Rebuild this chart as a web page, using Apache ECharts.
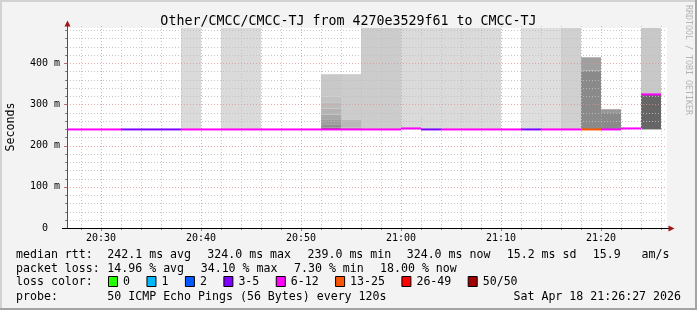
<!DOCTYPE html>
<html><head><meta charset="utf-8">
<script src="https://cdn.jsdelivr.net/npm/echarts@6/dist/echarts.min.js"></script>
<style>html,body{margin:0;padding:0;background:#f3f3f3}#c{width:697px;height:310px}</style>
</head><body><div id="c"></div>
<script>
// ---------------- data ----------------
const titleText = 'Other/CMCC/CMCC-TJ from 4270e3529f61 to CMCC-TJ';
const yAxisTitle = 'Seconds';
const windowStart = '20:26:36';
const windowEnd = '21:26:36';
const yMaxMs = 485;
const yTickValues = [0, 100, 200, 300, 400];
const xTickLabels = ['20:30', '20:40', '20:50', '21:00', '21:10', '21:20'];

// 2-minute steps: start time, median rtt (ms), packet loss (%)
const stepTimes = ['20:26','20:28','20:30','20:32','20:34','20:36','20:38','20:40','20:42','20:44',
                   '20:46','20:48','20:50','20:52','20:54','20:56','20:58','21:00','21:02','21:04',
                   '21:06','21:08','21:10','21:12','21:14','21:16','21:18','21:20','21:22','21:24'];
const medianMs  = [239,239,239,239,239,239,239,239,239,239,
                   239,239,239,239,239,239,239,241.5,239,239,
                   239,239,239,239,239,239,239,239,241.5,324];
const lossPct   = [16,15,17,7.3,8,9,18,15,17,16,
                   15,14,16,20,18,17,16,16,8,15,
                   17,16,15,7.5,16,17,34.1,18,15,18];

// smoke bands: step start, low (ms), high (ms), ping density (0..1)
const smokeTime    = ['20:38','20:42','20:44',
                      '20:52','20:52','20:52','20:52','20:52','20:52','20:52','20:52',
                      '20:54','20:54','20:54',
                      '20:56','20:58',
                      '21:00','21:02','21:04','21:06','21:08',
                      '21:12','21:14','21:16',
                      '21:18','21:18','21:20','21:20',
                      '21:24','21:24'];
const smokeLowMs   = [239,239,239,
                      239,243,250,262,275,290,305,319,
                      239,244,262,
                      239,239,
                      239,239,239,239,239,
                      239,239,239,
                      239,382,239,279,
                      239,324];
const smokeHighMs  = [485,485,485,
                      243,250,262,275,290,305,319,373,
                      244,262,373,
                      485,485,
                      485,485,485,485,485,
                      485,485,485,
                      382,414,279,288,
                      324,485];
const smokeDensity = [0.03,0.03,0.03,
                      0.72,0.56,0.46,0.38,0.31,0.25,0.20,0.16,
                      0.36,0.27,0.13,
                      0.13,0.13,
                      0.03,0.03,0.03,0.03,0.03,
                      0.0,0.0,0.10,
                      0.60,0.45,0.60,0.50,
                      0.86,0.16];

const lossLegendLabels = ['0','1','2','3-5','6-12','13-25','26-49','50/50'];
const lossLegendPings  = [0,1,2,3,6,13,26,50];
const lossLegendColors = ['#26ff00','#00b8ff','#0059ff','#7e00ff','#ff00ff','#ff5500','#ff0000','#a10000'];
const pingsPerStep = 50;

const legendRow1 = ['median rtt:','242.1 ms avg','324.0 ms max','239.0 ms min','324.0 ms now','15.2 ms sd','15.9   am/s'];
const legendRow2 = ['packet loss:','14.96 % avg','34.10 % max','7.30 % min','18.00 % now'];
const legendRow3Head = 'loss color:';
const legendRow4 = ['probe:','50 ICMP Echo Pings (56 Bytes) every 120s'];
const stampText = 'Sat Apr 18 21:26:27 2026';
const watermark = 'RRDTOOL / TOBI OETIKER';

// ---------------- helpers ----------------
function toMin(s){ const p = s.split(':').map(Number); return p[0]*60 + p[1] + (p[2]||0)/60 - (20*60+30); }
const STEP = 2;
const xMin = toMin(windowStart), xMax = toMin(windowEnd);
function lossColor(pct){
  const pings = Math.round(pct * pingsPerStep / 100);
  let c = lossLegendColors[0];
  for (let i = 0; i < lossLegendPings.length; i++) if (pings >= lossLegendPings[i]) c = lossLegendColors[i];
  return c;
}
function grey(d){ const g = Math.round(222 - 140*d); return 'rgb(' + g + ',' + g + ',' + g + ')'; }

const MONO = '"DejaVu Sans Mono", monospace';
const GRID_MIN = 'rgba(190,190,190,0.85)';
const GRID_MAJ = 'rgba(230,140,140,0.75)';

const smokeData = smokeTime.map((t,i)=>[toMin(t), toMin(t)+STEP, smokeLowMs[i], smokeHighMs[i], smokeDensity[i]]);
const medianData = stepTimes.map((t,i)=>[toMin(t), toMin(t)+STEP, medianMs[i], lossPct[i]]);

function renderSmoke(params, api){
  const cs = params.coordSys;
  const p0 = api.coord([api.value(0), api.value(3)]);
  const p1 = api.coord([api.value(1), api.value(2)]);
  const rect = echarts.graphic.clipRectByRect(
    {x: p0[0], y: p0[1], width: p1[0]-p0[0], height: p1[1]-p0[1]},
    {x: cs.x, y: cs.y, width: cs.width, height: cs.height});
  if (!rect) return;
  return {type:'rect', shape: rect, style:{fill: grey(api.value(4))}};
}
function renderMedian(params, api){
  const cs = params.coordSys;
  const a = api.coord([api.value(0), api.value(2)]);
  const b = api.coord([api.value(1), api.value(2)]);
  const x1 = Math.max(a[0], cs.x), x2 = Math.min(b[0], cs.x + cs.width);
  if (x2 <= x1) return;
  return {type:'line', shape:{x1:x1, y1:a[1], x2:x2, y2:b[1]},
          style:{stroke: lossColor(api.value(3)), lineWidth: 2}};
}
function renderGrid(params, api){
  const cs = params.coordSys;
  const left = cs.x, right = cs.x + cs.width, top = cs.y, bottom = cs.y + cs.height;
  const ch = [];
  for (let m = Math.ceil(xMin/STEP)*STEP; m <= xMax; m += STEP) {
    const x = Math.round(api.coord([m, 0])[0]) + 0.5;
    const major = (m % 10) === 0;
    ch.push({type:'line', shape:{x1:x, y1:top-2, x2:x, y2:bottom}, style:{stroke: major?GRID_MAJ:GRID_MIN, lineWidth:1, lineDash:[1,2]}});
    ch.push({type:'line', shape:{x1:x, y1:bottom, x2:x, y2:bottom+(major?3:2)}, style:{stroke: major?'#c07070':'#808080', lineWidth:1}});
  }
  for (let v = 20; v < yMaxMs; v += 20) {
    const y = Math.round(api.coord([xMin, v])[1]) + 0.5;
    const major = (v % 100) === 0;
    ch.push({type:'line', shape:{x1:left, y1:y, x2:right, y2:y}, style:{stroke: major?GRID_MAJ:GRID_MIN, lineWidth:1, lineDash:[1,2]}});
    ch.push({type:'line', shape:{x1:left-(major?3:2), y1:y, x2:left, y2:y}, style:{stroke: major?'#c07070':'#808080', lineWidth:1}});
  }
  return {type:'group', children: ch};
}

// ---------------- graphics (frame, axes, legend) ----------------
const G = [];
G.push({type:'rect', shape:{x:0,y:0,width:697,height:2}, style:{fill:'#d2d2d2'}, z:100});
G.push({type:'rect', shape:{x:0,y:0,width:2,height:310}, style:{fill:'#d2d2d2'}, z:100});
G.push({type:'rect', shape:{x:695,y:0,width:2,height:310}, style:{fill:'#a3a3a3'}, z:100});
G.push({type:'rect', shape:{x:0,y:308,width:697,height:2}, style:{fill:'#a3a3a3'}, z:100});
// axes
G.push({type:'line', shape:{x1:67.5,y1:228,x2:67.5,y2:24}, style:{stroke:'#505050', lineWidth:1}, z:100});
G.push({type:'line', shape:{x1:62,y1:228.5,x2:670,y2:228.5}, style:{stroke:'#000', lineWidth:1}, z:100});
G.push({type:'polygon', shape:{points:[[64.5,26.5],[70.5,26.5],[67.5,20.5]]}, style:{fill:'#a01818'}, z:101});
G.push({type:'polygon', shape:{points:[[668.5,225.5],[668.5,231.5],[674.5,228.5]]}, style:{fill:'#a01818'}, z:101});
// y axis title
G.push({type:'text', x:11, y:127, rotation:Math.PI/2, style:{text:yAxisTitle, font:'11.6px '+MONO, fill:'#000', align:'center', verticalAlign:'middle', textAlign:'center', textVerticalAlign:'middle'}, z:100});
// watermark
G.push({type:'text', x:688, y:60, rotation:-Math.PI/2, style:{text:watermark, font:'8.3px '+MONO, fill:'#b4b4b4', align:'center', verticalAlign:'middle', textAlign:'center', textVerticalAlign:'middle'}, z:100});
function txt(s, x, y, align){ G.push({type:'text', x:x, y:y, style:{text:s, font:'11.6px '+MONO, fill:'#000', align:align||'left', verticalAlign:'middle', textAlign:align||'left', textVerticalAlign:'middle'}, z:100}); }
const row1X = [16, 107.3, 207.3, 307.5, 406.7, 506.7, 592.7];
legendRow1.forEach((s,i)=>txt(s, row1X[i], 254.5));
const row2X = [16, 107.3, 200.7, 294, 380];
legendRow2.forEach((s,i)=>txt(s, row2X[i], 268.5));
txt(legendRow3Head, 16, 282);
const CW = 6.96;
let bx = 108;
lossLegendLabels.forEach((s,i)=>{
  G.push({type:'rect', shape:{x:bx+0.5, y:276.5, width:9, height:10}, style:{fill:lossLegendColors[i], stroke:'#000', lineWidth:1}, z:100});
  txt(s, bx+15, 282);
  bx = bx + 15 + s.length*CW + 16.5;
});
txt(legendRow4[0], 16, 296.5);
txt(legendRow4[1], 107.3, 296.5);
txt(stampText, 681, 296.5, 'right');

// ---------------- chart ----------------
const chart = echarts.init(document.getElementById('c'), null, {renderer:'canvas'});
chart.setOption({
  backgroundColor:'#f3f3f3',
  animation:false,
  title:{text:titleText, left:'center', top:10, textStyle:{fontFamily:MONO, fontSize:13.3, fontWeight:'normal', color:'#000'}},
  grid:{left:67, top:28, width:600, height:200, show:true, backgroundColor:'#ffffff', borderWidth:0,
        containLabel:false, outerBoundsMode:'none'},
  xAxis:{type:'value', min:xMin, max:xMax, interval:10,
    axisLine:{show:false}, axisTick:{show:false}, splitLine:{show:false},
    axisLabel:{customValues: xTickLabels.map(toMin), margin:5, fontFamily:MONO, fontSize:10, color:'#000',
      formatter: v => { const i = xTickLabels.map(toMin).findIndex(t=>Math.abs(t-v)<1e-6); return i>=0 ? xTickLabels[i] : ''; }}},
  yAxis:{type:'value', min:0, max:yMaxMs, interval:100,
    axisLine:{show:false}, axisTick:{show:false}, splitLine:{show:false},
    axisLabel:{margin:7, fontFamily:MONO, fontSize:10, color:'#000', showMaxLabel:false,
      formatter: v => yTickValues.indexOf(v) < 0 ? '' : (v === 0 ? '0\u00a0\u00a0' : v + ' m')}},
  graphic: G,
  series:[
    {type:'custom', name:'smoke', renderItem:renderSmoke, data:smokeData, z:2, silent:true},
    {type:'custom', name:'grid', renderItem:renderGrid, data:[[xMin, 0]], z:3, silent:true, clip:false},
    {type:'custom', name:'median', renderItem:renderMedian, data:medianData, z:4, silent:true}
  ]
});
</script></body></html>
